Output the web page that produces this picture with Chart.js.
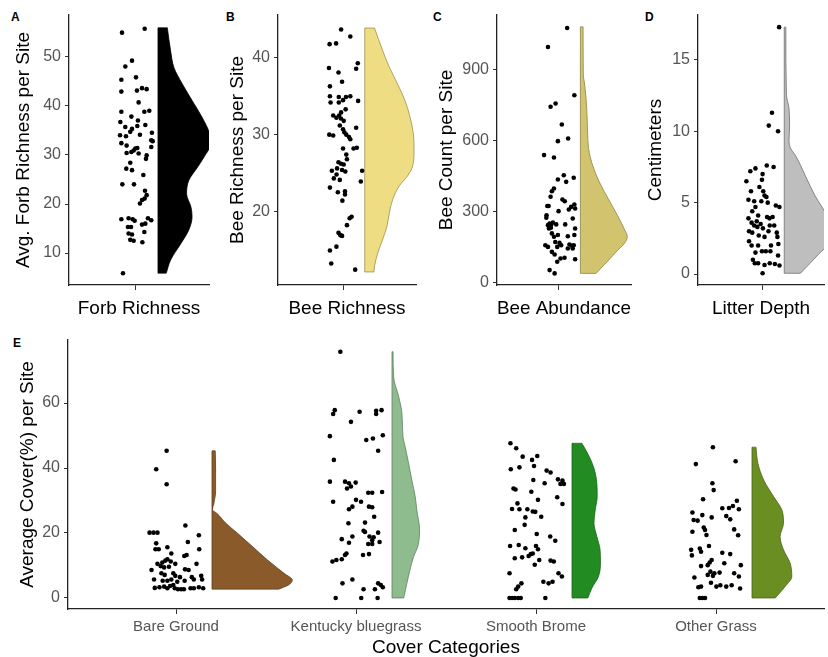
<!DOCTYPE html>
<html>
<head>
<meta charset="utf-8">
<script src="https://cdn.jsdelivr.net/npm/chart.js@4.4.1/dist/chart.umd.min.js"></script>
<style>
body { margin: 0; background: #fff; width: 828px; height: 657px; position: relative; overflow: hidden; font-family: "Liberation Sans", Arial, sans-serif; }
canvas { position: absolute; }
.tag { position: absolute; font-weight: bold; font-size: 12px; line-height: 12px; color: #000; }
</style>
</head>
<body>
<div class="tag" style="left:11px;top:11px">A</div>
<div class="tag" style="left:226px;top:11px">B</div>
<div class="tag" style="left:433px;top:11px">C</div>
<div class="tag" style="left:645px;top:11px">D</div>
<div class="tag" style="left:13px;top:337px">E</div>
<canvas id="cA" width="215" height="330" style="left:0;top:0"></canvas>
<canvas id="cB" width="205" height="330" style="left:215px;top:0"></canvas>
<canvas id="cC" width="215" height="330" style="left:420px;top:0"></canvas>
<canvas id="cD" width="193" height="330" style="left:635px;top:0"></canvas>
<canvas id="cE" width="828" height="327" style="left:0;top:330px"></canvas>
<script>
// site values (y) and jitter offsets from the category centre (x)
const forbValues = [54.9, 55.7, 49.2, 48.0, 45.3, 45.8, 42.9, 43.1, 43.6, 43.4, 40.7, 38.8, 38.8, 39.0, 37.8, 37.0, 36.7, 35.7, 35.3, 34.7,
  35.9, 36.1, 34.0, 34.1, 34.5, 33.8, 33.0, 32.8, 32.4, 31.9, 31.3, 30.9, 31.4, 31.6, 30.6, 30.4, 30.3, 29.9, 29.2, 28.4,
  27.2, 26.9, 25.9, 24.0, 24.0, 22.7, 21.8, 21.1, 20.8, 20.1, 16.9, 17.1, 16.9, 16.6, 17.1, 16.7, 15.3, 15.3, 15.8, 16.0,
  14.0, 13.8, 14.3, 12.7, 12.5, 12.2, 5.9];
const forbJitter = [-0.127, 0.079, -0.036, -0.097, -0.133, 0.0, -0.133, 0.009, 0.055, 0.097, 0.024, -0.133, 0.076, 0.121, -0.042, 0.018, -0.142, -0.097, -0.036, -0.052,
  0.012, 0.085, -0.145, 0.036, 0.145, -0.091, 0.139, 0.152, -0.133, -0.085, -0.006, -0.021, 0.012, 0.139, -0.042, -0.085, 0.024, 0.097, 0.091, -0.052,
  -0.088, -0.036, 0.067, -0.124, -0.018, 0.082, 0.097, 0.079, 0.055, 0.036, -0.133, -0.067, -0.03, -0.012, 0.109, 0.139, -0.073, -0.045, 0.055, 0.085,
  -0.067, -0.036, 0.076, -0.052, -0.021, 0.058, -0.118];
const forbViolinY = [5.9, 8.6, 12, 14.7, 17.4, 19.4, 22.1, 24.8, 27.5, 29.6, 32.3, 34.3, 37.7, 41.1, 44.5, 47.8, 51.2, 55.9];
const forbViolinW = [0.075, 0.115, 0.21, 0.28, 0.31, 0.30, 0.26, 0.28, 0.36, 0.42, 0.48, 0.47, 0.40, 0.31, 0.22, 0.145, 0.115, 0.085];

const beeRichValues = [43.7, 42.8, 41.8, 41.9, 39.3, 38.6, 38.7, 38.1, 36.9, 36.3, 35.0, 34.9, 34.9, 35.0, 34.2, 34.2, 34.5, 34.4, 33.3, 32.9,
  32.5, 32.2, 32.5, 31.8, 31.2, 30.9, 30.0, 29.9, 30.7, 30.3, 30.0, 29.7, 29.4, 28.2, 28.2, 28.3, 26.8, 26.4, 26.2, 26.1,
  25.3, 25.6, 25.4, 25.2, 25.3, 24.3, 24.1, 23.9, 23.1, 22.5, 22.6, 22.2, 21.4, 19.3, 19.1, 18.2, 17.2, 16.9, 16.8, 15.4,
  14.9, 13.2, 12.4, 27.4, 24.8, 32.1];
const beeRichJitter = [-0.018, 0.067, -0.124, -0.064, 0.136, 0.121, -0.130, -0.042, -0.009, -0.121, -0.121, -0.039, 0.027, 0.067, -0.115, -0.039, 0.0, 0.139, 0.024, -0.018,
  -0.091, -0.061, -0.036, 0.006, -0.030, 0.121, -0.127, -0.091, 0.0, 0.012, 0.030, 0.055, 0.067, 0.0, 0.097, 0.127, 0.036, -0.042, -0.018, 0.006,
  -0.103, -0.055, -0.009, 0.021, 0.176, -0.085, -0.030, 0.164, -0.121, -0.048, 0.018, 0.018, -0.006, 0.079, 0.061, 0.036, -0.042, -0.024, -0.009, -0.061,
  -0.121, -0.109, 0.112, 0.03, -0.06, -0.02];
const beeRichViolinY = [12.1, 12.9, 14.6, 16.4, 18.1, 19.8, 21.5, 23.3, 24.6, 25.8, 28.0, 30.2, 32.3, 34.5, 36.6, 38.8, 40.9, 43.9];
const beeRichViolinW = [0.085, 0.091, 0.121, 0.167, 0.206, 0.227, 0.257, 0.318, 0.394, 0.44, 0.455, 0.448, 0.418, 0.37, 0.303, 0.227, 0.167, 0.09];

const beeCountValues = [1074, 994, 790, 741, 755, 666, 596, 607, 537, 527, 452, 434, 424, 441, 396, 384, 361, 349, 342, 322,
  322, 328, 300, 307, 311, 272, 269, 248, 241, 243, 252, 227, 230, 244, 244, 227, 206, 199, 192, 194,
  199, 156, 149, 166, 149, 156, 159, 154, 156, 142, 128, 117, 86, 100, 103, 97, 51, 37, 142, 283, 318, 170];
const beeCountJitter = [0.079, -0.097, 0.145, -0.073, -0.027, 0.030, -0.006, 0.088, -0.133, -0.042, 0.048, -0.006, 0.070, 0.139, -0.042, -0.061, -0.073, 0.036, 0.057, -0.103,
  -0.091, 0.145, 0.0, 0.094, 0.152, -0.112, 0.130, -0.082, -0.097, -0.067, -0.052, -0.088, -0.070, -0.021, 0.061, 0.152, -0.061, -0.006, -0.042, 0.085,
  0.145, -0.121, -0.097, 0.009, -0.012, 0.024, 0.1, 0.121, 0.139, 0.085, -0.061, -0.036, -0.012, 0.018, 0.055, 0.152, -0.082, -0.036, 0.13, -0.11, 0.115, -0.03];
const beeCountViolinY = [37, 114, 192, 227, 283, 353, 424, 494, 565, 635, 705, 776, 846, 875, 1079];
const beeCountViolinW = [0.143, 0.30, 0.43, 0.40, 0.339, 0.255, 0.173, 0.112, 0.075, 0.066, 0.061, 0.052, 0.036, 0.027, 0.025];

const litterValues = [17.3, 11.3, 10.4, 10.0, 7.6, 7.5, 7.4, 7.2, 7.0, 6.5, 6.6, 6.1, 5.8, 5.8, 5.5, 5.4, 5.2, 5.1, 5.1, 5.0,
  4.8, 4.7, 4.1, 4.0, 3.9, 4.0, 3.9, 3.6, 3.4, 3.3, 3.5, 3.2, 3.0, 2.9, 3.4, 3.0, 2.9, 2.6, 2.7, 2.6,
  2.3, 2.0, 2.0, 2.0, 2.1, 1.5, 1.6, 1.6, 1.6, 1.3, 1.0, 0.75, 0.75, 0.63, 0.75, 0.7, 0.6, 0.05, 4.4, 4.7, 3.4, 3.7];
const litterJitter = [0.152, 0.085, 0.055, 0.142, 0.036, 0.1, -0.07, -0.118, -0.003, -0.155, -0.009, -0.033, -0.112, 0.003, 0.015, 0.033, -0.136, -0.082, -0.015, 0.045,
  0.121, 0.155, -0.045, 0.039, 0.061, 0.091, -0.136, -0.106, -0.082, -0.052, -0.021, 0.0, -0.13, -0.1, 0.064, 0.052, 0.130, 0.136, -0.039, 0.015,
  -0.13, -0.106, -0.045, 0.076, 0.145, -0.07, -0.009, 0.027, 0.07, 0.142, -0.094, -0.076, -0.045, 0.015, 0.064, 0.112, 0.155, -0.003, -0.1, -0.07, 0.106, -0.058];
const litterViolinY = [0.05, 1.45, 2.6, 4.1, 5.5, 6.9, 8.3, 8.8, 9.3, 10.4, 11.6, 12.6, 17.3];
const litterViolinW = [0.152, 0.33, 0.47, 0.40, 0.288, 0.197, 0.106, 0.06, 0.045, 0.05, 0.045, 0.02, 0.015];

const coverCategories = ['Bare Ground', 'Kentucky bluegrass', 'Smooth Brome', 'Other Grass'];

const bareValues = [45.3, 39.6, 35.0, 20.1, 20.1, 20.1, 22.3, 19.3, 16.8, 15.6, 15.0, 15.0, 17.2, 13.7, 12.9, 13.2, 15.0, 10.5, 10.9, 11.5,
  11.9, 11.2, 9.8, 9.4, 9.6, 10.5, 10.5, 8.6, 8.8, 8.6, 7.6, 7.1, 7.6, 6.8, 6.4, 6.4, 5.7, 6.8, 5.7, 5.7,
  5.3, 5.7, 5.0, 5.3, 3.1, 3.3, 3.5, 3.0, 3.7, 3.0, 2.7, 2.7, 2.7, 3.0, 3.0, 3.3, 3.0, 4.0, 5.3];
const bareJitter = [-0.052, -0.110, -0.052, -0.147, -0.125, -0.103, 0.052, 0.127, -0.110, -0.048, -0.114, -0.096, 0.066, -0.026, 0.046, 0.059, 0.129, -0.103, -0.076, -0.059,
  -0.048, -0.029, -0.085, -0.066, -0.039, -0.004, 0.114, -0.136, 0.050, 0.070, -0.081, -0.063, -0.015, -0.004, 0.022, 0.088, 0.099, 0.140, 0.145, -0.122,
  -0.048, -0.026, 0.007, 0.048, -0.118, -0.092, -0.066, -0.048, -0.033, -0.007, 0.011, 0.029, 0.044, 0.081, 0.099, 0.127, 0.151, -0.015, -0.074];
const bareViolinY = [2.7, 4.0, 5.5, 7.6, 11.7, 15.8, 19.9, 23, 26.1, 27.1, 29, 33, 40, 45.3];
const bareViolinW = [0.37, 0.425, 0.446, 0.40, 0.308, 0.225, 0.142, 0.077, 0.026, 0.002, 0.01, 0.02, 0.02, 0.018];

const kbgValues = [75.8, 57.8, 56.6, 57.3, 57.6, 57.8, 56.6, 54.2, 49.8, 48.6, 49.1, 50.1, 45.3, 42.5, 35.8, 35.8, 35.3, 35.5, 33.7, 34.3,
  32.4, 32.4, 32.6, 29.6, 30.2, 29.6, 28.1, 27.3, 28.1, 27.9, 25.0, 23.0, 23.2, 20.7, 20.3, 18.1, 18.9, 17.0, 18.9, 18.7,
  20.1, 17.8, 17.2, 16.6, 16.6, 11.2, 11.7, 11.9, 13.2, 13.7, 13.2, 13.5, 4.5, 5.7, 2.7, 2.7, 4.5, 4.0, 3.3, 0, 0, 0];
const kbgJitter = [-0.087, -0.118, -0.127, 0.020, 0.112, 0.142, 0.112, -0.028, -0.145, 0.057, 0.094, 0.149, 0.123, -0.123, -0.145, -0.061, -0.039, -0.002, -0.050, -0.028,
  0.068, 0.090, 0.145, -0.127, 0.0, 0.028, -0.020, -0.039, 0.072, 0.090, 0.101, -0.042, 0.050, 0.042, 0.050, -0.079, -0.020, -0.039, 0.075, 0.098,
  0.123, 0.090, 0.131, 0.068, 0.090, -0.131, -0.109, -0.079, -0.061, -0.053, 0.039, 0.072, -0.075, -0.020, 0.042, 0.105, 0.123, 0.138, 0.149, -0.113, 0.029, 0.120];
const kbgViolinY = [0, 4.6, 12.7, 16, 21, 27, 31.2, 36.3, 41.5, 46.6, 49.6, 57, 62, 68, 75.8];
const kbgViolinW = [0.065, 0.083, 0.12, 0.144, 0.153, 0.138, 0.129, 0.11, 0.092, 0.073, 0.061, 0.055, 0.037, 0.009, 0.006];

const bromeValues = [47.6, 46.1, 43.5, 42.5, 43.7, 40.6, 40.2, 39.6, 39.2, 38.6, 36.3, 35.3, 36.5, 36.1, 35.1, 35.1, 33.7, 33.4, 32.7, 30.2,
  31.0, 28.9, 29.1, 27.4, 27.3, 27.3, 26.6, 26.5, 24.8, 25.0, 22.5, 20.9, 19.7, 18.9, 17.6, 16.0, 16.3, 15.3, 16.0, 15.0,
  12.2, 12.5, 12.9, 13.5, 13.7, 10.2, 11.7, 11.5, 11.2, 7.6, 7.6, 6.6, 5.0, 4.5, 5.0, 4.5, 3.5, 2.7, 0, 0, 0, 0, 0, 0];
const bromeJitter = [-0.142, -0.110, -0.074, -0.022, 0.007, -0.011, -0.092, -0.140, 0.059, 0.081, -0.015, 0.048, 0.122, 0.147, 0.136, 0.155, -0.125, -0.114, -0.026, 0.011,
  0.118, 0.147, -0.103, -0.133, -0.092, -0.048, -0.018, -0.004, -0.059, 0.029, -0.063, -0.118, 0.004, 0.079, 0.107, -0.144, -0.096, -0.059, 0.0, 0.011,
  -0.118, -0.077, -0.041, -0.029, -0.018, -0.007, 0.018, 0.081, 0.099, -0.147, 0.125, 0.144, 0.041, 0.070, 0.092, -0.081, -0.099, -0.110, -0.147, -0.133, -0.118, -0.099, -0.085, 0.052];
const bromeViolinY = [0, 3, 6.6, 10.7, 14.8, 18.9, 23, 27.1, 31.2, 35.3, 39.4, 43.5, 47.6];
const bromeViolinW = [0.088, 0.11, 0.147, 0.158, 0.156, 0.138, 0.122, 0.129, 0.14, 0.138, 0.125, 0.096, 0.055];

const otherValues = [46.4, 41.2, 42.1, 35.3, 33.2, 30.4, 29.9, 27.6, 27.7, 28.3, 27.3, 26.3, 25.5, 24.8, 25.2, 24.2, 24.0, 23.8, 21.7, 20.9,
  20.4, 19.4, 21.1, 19.3, 14.8, 15.2, 13.1, 14.2, 16.0, 13.9, 13.5, 11.7, 10.9, 10.1, 9.8, 10.7, 10.1, 6.3, 7.1, 7.6,
  7.8, 7.6, 6.6, 3.3, 3.5, 4.7, 3.5, 3.9, 3.5, 3.9, 2.9, 0, 0, 0, 6.8, 8.1];
const otherJitter = [-0.017, -0.112, 0.109, -0.020, -0.013, -0.072, 0.116, 0.035, 0.072, 0.094, 0.127, -0.131, -0.076, -0.024, 0.057, 0.079, -0.124, -0.102, -0.068, -0.061,
  -0.131, -0.053, 0.101, 0.123, -0.138, -0.090, -0.134, -0.083, -0.039, 0.035, 0.079, -0.024, -0.035, -0.046, -0.083, 0.046, 0.138, -0.120, -0.046, -0.009,
  0.020, 0.101, 0.127, -0.098, -0.083, -0.028, 0.002, 0.024, 0.057, 0.087, 0.134, -0.090, -0.076, -0.061, -0.017, -0.031];
const otherViolinY = [0, 3.5, 6.6, 10.7, 14.8, 18.9, 23, 27.1, 31.2, 36.3, 41.4, 46.4];
const otherViolinW = [0.129, 0.184, 0.221, 0.212, 0.175, 0.156, 0.175, 0.166, 0.12, 0.065, 0.033, 0.022];

const ticksForb = [10, 20, 30, 40, 50];
const ticksBeeRich = [20, 30, 40];
const ticksBeeCount = [0, 300, 600, 900];
const ticksLitter = [0, 5, 10, 15];
const ticksCover = [0, 20, 40, 60];

const FONT = '"Liberation Sans", Arial, sans-serif';
const VIOLIN_GAP = 0.2;

function pointsData(center, values, jitter) {
  return values.map((v, i) => ({ x: center + jitter[i], y: v }));
}

// density edge of a half violin, filled back to its flat side
function violinEdge(center, levels, widths) {
  const base = center + VIOLIN_GAP;
  return levels.map((v, i) => ({ x: base + widths[i], y: v }));
}

// flat side plus the two trimmed ends
function violinFrame(center, levels, widths) {
  const base = center + VIOLIN_GAP;
  const n = levels.length - 1;
  return [
    { x: base + widths[0], y: levels[0] },
    { x: base, y: levels[0] },
    { x: base, y: levels[n] },
    { x: base + widths[n], y: levels[n] }
  ];
}

function rainDatasets(center, values, jitter, levels, widths, fill, edge) {
  return [
    {
      type: 'scatter',
      data: pointsData(center, values, jitter),
      pointRadius: 2.3,
      pointBackgroundColor: '#000',
      pointBorderWidth: 0,
      clip: false
    },
    {
      type: 'line',
      data: violinFrame(center, levels, widths),
      fill: false,
      borderColor: edge,
      borderWidth: 0.8,
      pointRadius: 0,
      tension: 0
    },
    {
      type: 'line',
      indexAxis: 'y',
      data: violinEdge(center, levels, widths),
      fill: { value: center + VIOLIN_GAP },
      backgroundColor: fill,
      borderColor: edge,
      borderWidth: 0.8,
      pointRadius: 0,
      cubicInterpolationMode: 'monotone'
    }
  ];
}

function panel(id, opt) {
  new Chart(document.getElementById(id), {
    type: 'scatter',
    data: { datasets: opt.datasets },
    options: {
      responsive: false,
      animation: false,
      events: [],
      layout: { padding: { left: 0, right: opt.padRight, top: opt.padTop, bottom: 0 } },
      plugins: { legend: { display: false }, tooltip: { enabled: false } },
      scales: {
        x: {
          type: 'linear',
          min: opt.xMin, max: opt.xMax,
          afterBuildTicks: s => { s.ticks = opt.xTicks.map(v => ({ value: v })); },
          afterFit: s => { s.height = opt.xAxisH; s.paddingLeft = 0; s.paddingRight = 0; },
          grid: { display: true, drawOnChartArea: false, drawTicks: true, tickLength: 5, color: '#333' },
          border: { display: true, color: '#222', width: 1.3 },
          ticks: {
            display: !!opt.xLabels,
            autoSkip: false,
            maxRotation: 0,
            padding: 4,
            color: '#555',
            font: { family: FONT, size: 15 },
            callback: v => opt.xLabels ? opt.xLabels[Math.round(v) - 1] : ''
          },
          title: {
            display: true, text: opt.xTitle, color: '#000',
            font: { family: FONT, size: 19, lineHeight: 1 },
            padding: { top: 0, bottom: opt.xTitlePad }
          }
        },
        y: {
          type: 'linear',
          min: opt.yMin, max: opt.yMax,
          afterBuildTicks: s => { s.ticks = opt.yTicks.map(v => ({ value: v })); },
          afterFit: s => { s.width = opt.yAxisW; s.paddingTop = 0; s.paddingBottom = 0; },
          grid: { display: true, drawOnChartArea: false, drawTicks: true, tickLength: 4, color: '#333' },
          border: { display: true, color: '#222', width: 1.3 },
          ticks: { padding: 4, color: '#555', font: { family: FONT, size: 16 } },
          title: {
            display: true, text: opt.yTitle, color: '#000',
            font: { family: FONT, size: 19, lineHeight: 1 },
            padding: { top: opt.yTitlePad, bottom: 0 }
          }
        }
      }
    }
  });
}

const topPanel = { padTop: 15, xAxisH: 45, xTicks: [1], xTitlePad: 12 };

panel('cA', Object.assign({}, topPanel, {
  datasets: rainDatasets(1, forbValues, forbJitter, forbViolinY, forbViolinW, '#000000', '#000000'),
  padRight: 6, yAxisW: 69, xMin: 0.391, xMax: 1.664, yMin: 3.5, yMax: 58.5,
  yTicks: ticksForb, yTitle: 'Avg. Forb Richness per Site', xTitle: 'Forb Richness', yTitlePad: 14
}));

panel('cB', Object.assign({}, topPanel, {
  datasets: rainDatasets(1, beeRichValues, beeRichJitter, beeRichViolinY, beeRichViolinW, '#EEDD82', '#9c8f52'),
  padRight: 2, yAxisW: 63, xMin: 0.4, xMax: 1.673, yMin: 10.4, yMax: 45.6,
  yTicks: ticksBeeRich, yTitle: 'Bee Richness per Site', xTitle: 'Bee Richness', yTitlePad: 13
}));

panel('cC', Object.assign({}, topPanel, {
  datasets: rainDatasets(1, beeCountValues, beeCountJitter, beeCountViolinY, beeCountViolinW, '#D2C46E', '#8d8148'),
  padRight: 3, yAxisW: 77, xMin: 0.436, xMax: 1.664, yMin: -12, yMax: 1129,
  yTicks: ticksBeeCount, yTitle: 'Bee Count per Site', xTitle: 'Bee Abundance', yTitlePad: 17
}));

panel('cD', Object.assign({}, topPanel, {
  datasets: rainDatasets(1, litterValues, litterJitter, litterViolinY, litterViolinW, '#BEBEBE', '#6e6e6e'),
  padRight: 0, yAxisW: 63, xMin: 0.391, xMax: 1.573, yMin: -0.77, yMax: 18.15,
  yTicks: ticksLitter, yTitle: 'Centimeters', xTitle: 'Litter Depth', yTitlePad: 11
}));

panel('cE', {
  datasets: [].concat(
    rainDatasets(1, bareValues, bareJitter, bareViolinY, bareViolinW, '#8B5A2B', '#5e3c1c'),
    rainDatasets(2, kbgValues, kbgJitter, kbgViolinY, kbgViolinW, '#8FBC8F', '#5f7f5f'),
    rainDatasets(3, bromeValues, bromeJitter, bromeViolinY, bromeViolinW, '#228B22', '#166316'),
    rainDatasets(4, otherValues, otherJitter, otherViolinY, otherViolinW, '#6B8E23', '#4a6318')
  ),
  padTop: 10, padRight: 0, xAxisH: 48, yAxisW: 68,
  xMin: 0.4, xMax: 4.6, xTicks: [1, 2, 3, 4], xLabels: coverCategories, xTitlePad: 0,
  yMin: -3.4, yMax: 79.4, yTicks: ticksCover,
  yTitle: 'Average Cover(%) per Site', xTitle: 'Cover Categories', yTitlePad: 18
});
</script>
</body>
</html>
